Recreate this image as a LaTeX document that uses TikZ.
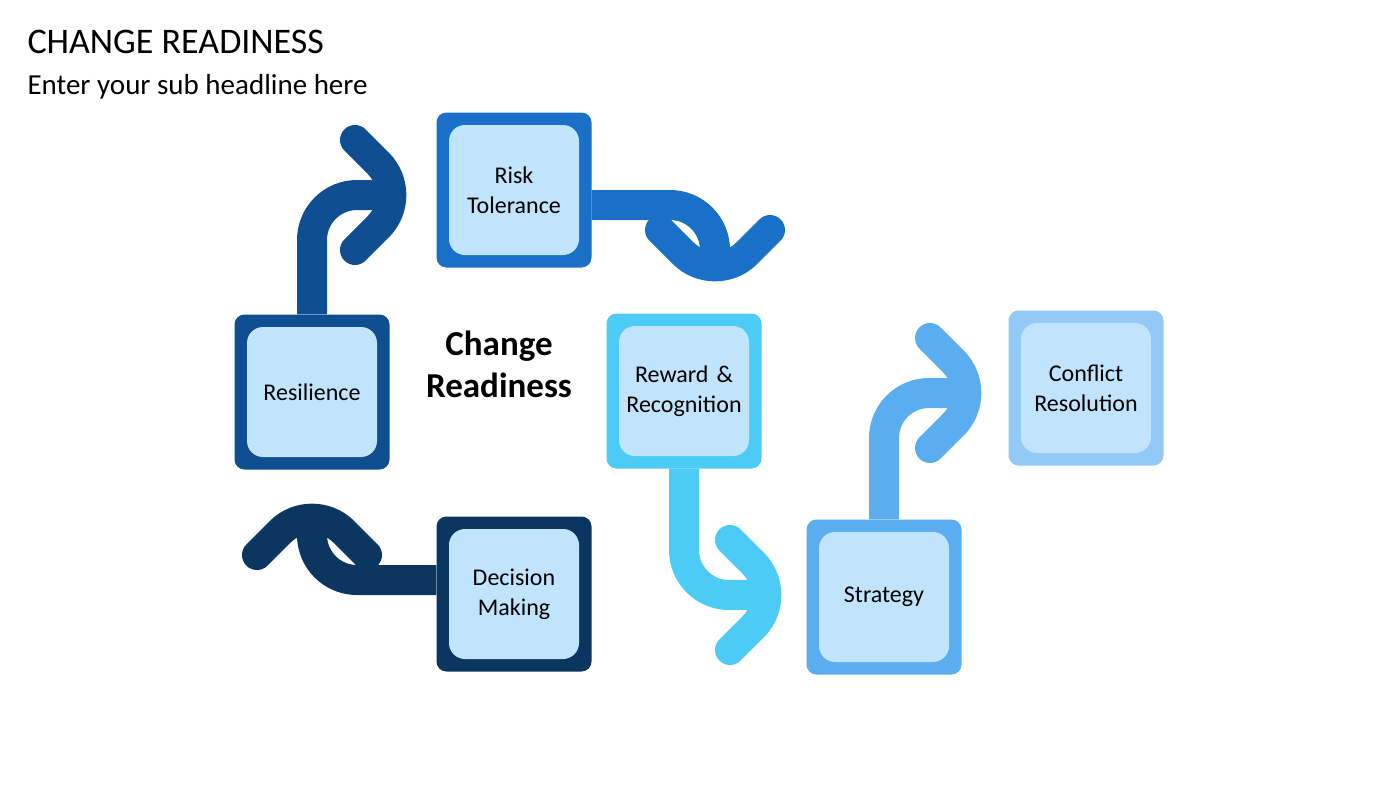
\documentclass[tikz,border=0pt]{standalone}
\usepackage{fontspec}
\setmainfont{Carlito}
\usetikzlibrary{calc}
\definecolor{cRes}{HTML}{0E4E91}
\definecolor{cRisk}{HTML}{1A70C6}
\definecolor{cRew}{HTML}{4CCBF7}
\definecolor{cDec}{HTML}{0A365F}
\definecolor{cStr}{HTML}{5AAEF0}
\definecolor{cCon}{HTML}{92C9F5}
\definecolor{cIn}{HTML}{BFE4FB}
\tikzset{
  outer/.style={minimum size=155pt,rounded corners=10pt,fill=#1,inner sep=0pt},
  inner/.style={minimum size=130pt,rounded corners=16pt,fill=cIn,inner sep=0pt,
    text width=125pt,align=center,font=\fontsize{24}{30}\selectfont},
  flow/.style={draw=#1,line width=30pt,line cap=round,line join=round,rounded corners=45pt},
  shaft/.style={flow=#1,line cap=butt,shorten >=22pt}
}
\begin{document}
\begin{tikzpicture}[x=1pt,y=-1pt]
\useasboundingbox (0,0) rectangle (1400,788);
\node[anchor=west,font=\fontsize{36}{40}\selectfont] (title) at (24,42) {CHANGE READINESS};
\node[anchor=west,font=\fontsize{29}{34}\selectfont] (sub) at (24,87) {Enter your sub headline here};
\node[font=\bfseries\fontsize{35}{42}\selectfont,align=center] (center) at (499,364) {Change\\Readiness};
% boxes
\node[outer=cRisk] (risk) at (514,190) {};
\node[outer=cRes] (res) at (312,392) {};
\node[outer=cRew] (rew) at (684,391) {};
\node[outer=cDec] (dec) at (514,594) {};
\node[outer=cStr] (str) at (884,597) {};
\node[outer=cCon] (con) at (1086,388) {};
% arrows
\coordinate (tA) at (410,195);
\coordinate (tB) at (715,285);
\coordinate (tC) at (785,595);
\coordinate (tD) at (985,393);
\coordinate (tE) at (312,500);
\draw[shaft=cRes] (res.north) |- (tA);
\draw[flow=cRes] ($(tA)+(-55,-55)$) -- (tA) -- ++(-55,55);
\draw[shaft=cRisk] ([yshift=-15pt]risk.east) -| (tB);
\draw[flow=cRisk] ($(tB)+(-55,-55)$) -- (tB) -- ++(55,-55);
\draw[shaft=cRew] (rew.south) |- (tC);
\draw[flow=cRew] ($(tC)+(-55,-55)$) -- (tC) -- ++(-55,55);
\draw[shaft=cStr] (str.north) |- (tD);
\draw[flow=cStr] ($(tD)+(-55,-55)$) -- (tD) -- ++(-55,55);
\draw[shaft=cDec] ([yshift=14pt]dec.west) -| (tE);
\draw[flow=cDec] ($(tE)+(-55,55)$) -- (tE) -- ++(55,55);
% inner labels
\node[inner] (riskIn) at (risk) {Risk\\Tolerance};
\node[inner] (resIn) at (res) {Resilience};
\node[inner] (rewIn) at (rew) {Reward \&\\Recognition};
\node[inner] (decIn) at (dec) {Decision\\Making};
\node[inner] (strIn) at (str) {Strategy};
\node[inner] (conIn) at (con) {Conflict\\Resolution};
\end{tikzpicture}
\end{document}
